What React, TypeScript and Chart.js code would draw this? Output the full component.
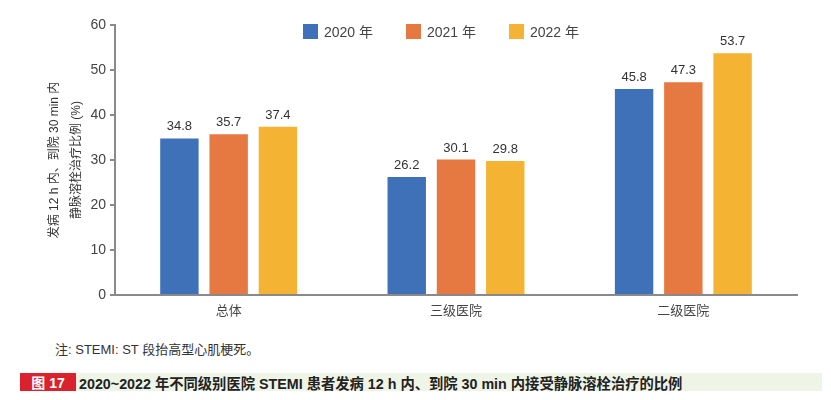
import React, { useEffect, useRef } from "react";
import { Chart, registerables } from "chart.js";

Chart.register(...registerables);

const categories = ["总体", "三级医院", "二级医院"];
const seriesNames = ["2020 年", "2021 年", "2022 年"];
const values2020 = [34.8, 26.2, 45.8];
const values2021 = [35.7, 30.1, 47.3];
const values2022 = [37.4, 29.8, 53.7];
const colors = ["#3F71B8", "#E57941", "#F5B334"];
const yTitle = ["发病 12 h 内、到院 30 min 内", "静脉溶栓治疗比例 (%)"];
const note = "注: STEMI: ST 段抬高型心肌梗死。";
const figLabel = "图 17";
const caption = "2020~2022 年不同级别医院 STEMI 患者发病 12 h 内、到院 30 min 内接受静脉溶栓治疗的比例";

const FONT = "'Liberation Sans', 'Noto Sans CJK SC', sans-serif";

const labelPlugin = {
  id: "barLabels",
  afterDatasetsDraw(chart: any) {
    const ctx = chart.ctx;
    ctx.save();
    ctx.font = `13px ${FONT}`;
    ctx.fillStyle = "#333";
    ctx.textAlign = "center";
    ctx.textBaseline = "bottom";
    chart.data.datasets.forEach((ds: any, i: number) => {
      const meta = chart.getDatasetMeta(i);
      meta.data.forEach((bar: any, j: number) => {
        ctx.fillText(ds.data[j].toFixed(1), bar.x, bar.y - 5);
      });
    });
    ctx.restore();
  },
};

export default function App() {
  const ref = useRef<HTMLCanvasElement>(null);
  useEffect(() => {
    if (!ref.current) return;
    const data = [values2020, values2021, values2022];
    const chart = new Chart(ref.current, {
      type: "bar",
      data: {
        labels: categories,
        datasets: seriesNames.map((n, i) => ({
          label: n,
          data: data[i],
          backgroundColor: colors[i],
          categoryPercentage: 0.65,
          barPercentage: 0.78,
        })),
      },
      options: {
        animation: false,
        responsive: false,
        maintainAspectRatio: false,
        layout: { padding: { left: 44, right: 34, top: 25, bottom: 0 } },
        plugins: { legend: { display: false }, tooltip: { enabled: false } },
        scales: {
          x: {
            grid: { display: false, drawTicks: false },
            border: { color: "#8a8a8a", width: 2 },
            ticks: { color: "#444", font: { size: 13, family: FONT }, padding: 9 },
            afterFit: (s: any) => { s.height = 35; },
          },
          y: {
            min: 0,
            max: 60,
            grid: { drawOnChartArea: false, drawTicks: true, tickLength: 5, color: "#8a8a8a", lineWidth: 2 },
            border: { color: "#8a8a8a", width: 2 },
            ticks: { stepSize: 10, color: "#444", font: { size: 14, family: FONT }, padding: 4 },
            title: {
              display: true,
              text: yTitle,
              color: "#333",
              font: { size: 12, family: FONT, lineHeight: 1.8 },
              padding: { top: 0, bottom: 0 },
            },
            afterFit: (s: any) => { s.width = 71; },
          },
        },
      },
      plugins: [labelPlugin],
    });
    return () => chart.destroy();
  }, []);

  return (
    <div style={{ position: "absolute", left: 0, top: 0, width: 831, height: 400, background: "#fff", fontFamily: FONT }}>
      <canvas ref={ref} width={831} height={330} style={{ position: "absolute", left: 0, top: 0 }} />
      <div style={{ position: "absolute", top: 21, left: 303, display: "flex", gap: 0 }}>
        {seriesNames.map((n, i) => (
          <div key={n} style={{ display: "flex", alignItems: "center", width: i < 2 ? 103 : "auto" }}>
            <span style={{ display: "inline-block", width: 15, height: 15, background: colors[i], marginRight: 6 }} />
            <span style={{ fontSize: 14, color: "#444" }}>{n}</span>
          </div>
        ))}
      </div>
      <div style={{ position: "absolute", top: 341, left: 55, fontSize: 13, color: "#333", lineHeight: "18px" }}>{note}</div>
      <div style={{ position: "absolute", top: 373, left: 20, width: 802, height: 18, background: "#EEF4E6", display: "flex", alignItems: "center" }}>
        <span style={{ background: "#D9222E", color: "#fff", height: 18, width: 56, display: "inline-flex", alignItems: "center", justifyContent: "center", fontSize: 14, fontWeight: 700 }}>{figLabel}</span>
        <span style={{ marginLeft: 3, fontSize: 14.3, fontWeight: 700, color: "#222", whiteSpace: "nowrap" }}>{caption}</span>
      </div>
    </div>
  );
}
